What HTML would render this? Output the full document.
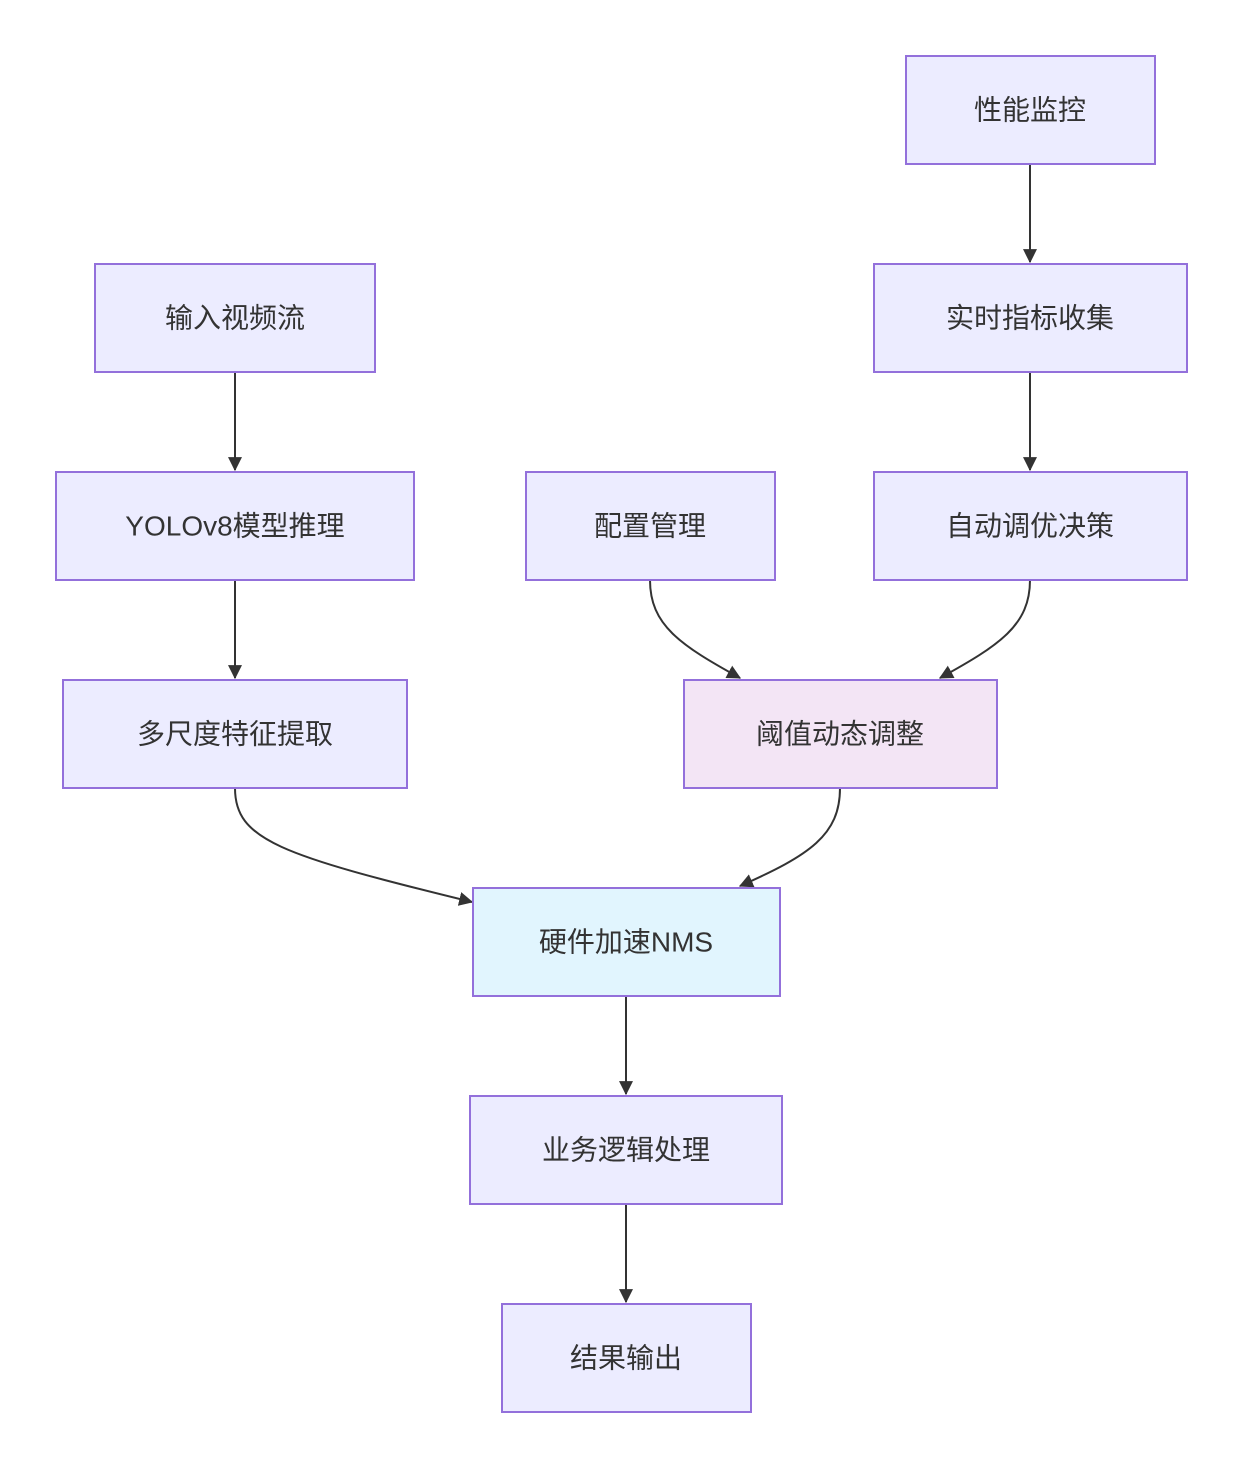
<!DOCTYPE html>
<html><head><meta charset="utf-8"><style>
html,body{margin:0;padding:0;background:#fff;}
svg{display:block;}
text{font-family:"Liberation Sans","Noto Sans CJK SC",sans-serif;font-size:28px;fill:#333;text-anchor:middle;dominant-baseline:central;}
.n{fill:#ECECFF;stroke:#9370DB;stroke-width:2;}
.e{fill:none;stroke:#333;stroke-width:2;}
</style></head><body>
<svg width="1242" height="1468" viewBox="0 0 1242 1468" xmlns="http://www.w3.org/2000/svg">
<defs><marker id="a" viewBox="0 0 10 10" refX="9" refY="5" markerWidth="8" markerHeight="8" orient="auto-start-reverse" markerUnits="userSpaceOnUse"><path d="M0,0L10,5L0,10z" fill="#333"/></marker>
<marker id="b" viewBox="0 0 12 12" refX="11" refY="6" markerWidth="14" markerHeight="14" orient="auto" markerUnits="userSpaceOnUse"><path d="M0,0L12,6L0,12z" fill="#333"/></marker></defs>
<g class="e" marker-end="url(#b)">
<path d="M1030,164V262"/>
<path d="M1030,372V470"/>
<path d="M235,372V470"/>
<path d="M235,580V678"/>
<path d="M650,580C650,625 680,645 740,678"/>
<path d="M1030,580C1030,625 1000,645 940,678"/>
<path d="M235,788C235,840 280,855 472,902"/>
<path d="M840,788C840,835 810,855 740,886"/>
<path d="M626,996V1094"/>
<path d="M626,1204V1302"/>
</g>
<rect class="n" x="906" y="56" width="249" height="108"/><text x="1030" y="110">性能监控</text>
<rect class="n" x="95" y="264" width="280" height="108"/><text x="235" y="318">输入视频流</text>
<rect class="n" x="874" y="264" width="313" height="108"/><text x="1030" y="318">实时指标收集</text>
<rect class="n" x="56" y="472" width="358" height="108"/><text x="235" y="526">YOLOv8模型推理</text>
<rect class="n" x="526" y="472" width="249" height="108"/><text x="650" y="526">配置管理</text>
<rect class="n" x="874" y="472" width="313" height="108"/><text x="1030" y="526">自动调优决策</text>
<rect class="n" x="63" y="680" width="344" height="108"/><text x="235" y="734">多尺度特征提取</text>
<rect class="n" x="684" y="680" width="313" height="108" style="fill:#F3E5F5"/><text x="840" y="734">阈值动态调整</text>
<rect class="n" x="473" y="888" width="307" height="108" style="fill:#E1F5FE"/><text x="626" y="942">硬件加速NMS</text>
<rect class="n" x="470" y="1096" width="312" height="108"/><text x="626" y="1150">业务逻辑处理</text>
<rect class="n" x="502" y="1304" width="249" height="108"/><text x="626" y="1358">结果输出</text>
</svg>
</body></html>
